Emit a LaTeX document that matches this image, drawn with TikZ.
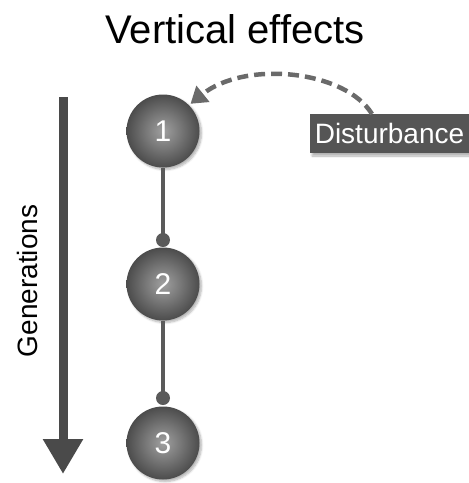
\documentclass[tikz,border=0pt]{standalone}
\usepackage{fontspec}
\setmainfont{Liberation Sans}
\usetikzlibrary{arrows.meta,shadows.blur}
\definecolor{ballin}{HTML}{A0A0A0}
\definecolor{ballout}{HTML}{4C4C4C}
\definecolor{linec}{HTML}{5A5A5A}
\definecolor{arrowc}{HTML}{4A4A4A}
\definecolor{dashc}{HTML}{6A6A6A}
\definecolor{boxc}{HTML}{555555}
\tikzset{
  ball/.style={circle, minimum size=73pt, inner sep=0pt, shading=radial,
    inner color=ballin, outer color=ballout, text=white,
    font=\fontsize{30}{32}\selectfont,
    blur shadow={shadow blur steps=6, shadow xshift=2pt, shadow yshift=-2pt, shadow opacity=30}},
  knob/.style={circle, fill=linec, minimum size=14pt, inner sep=0pt},
  link/.style={draw=linec, line width=4.5pt},
}
\begin{document}
\begin{tikzpicture}[x=1pt,y=-1pt]
\useasboundingbox (0,0) rectangle (469,483);
\node[font=\fontsize{40}{44}\selectfont] (title) at (235,29) {Vertical effects};
\node[ball] (n1) at (163,131) {1};
\node[ball] (n2) at (163,284) {2};
\node[ball] (n3) at (163,443) {3};
\node[knob] (d1) at (163,240) {};
\node[knob] (d2) at (163,398) {};
\draw[link] (n1.south) -- (d1.center);
\draw[link] (n2.south) -- (d2.center);
\node[fill=boxc, text=white, font=\fontsize{28}{30}\selectfont, inner sep=0pt,
  minimum width=159pt, minimum height=39pt,
  blur shadow={shadow blur steps=6, shadow xshift=2pt, shadow yshift=-3pt, shadow opacity=30}]
  (dist) at (389.5,133.5) {Disturbance};
\coordinate (ds) at (372,114);
\draw[dashc, line width=4.5pt, dash pattern=on 11pt off 6pt,
  -{Triangle[width=20pt,length=16pt]}, shorten >=2pt]
  (ds) .. controls (345,70) and (245,60) .. (n1.45);
\coordinate (gtop) at (63,97);
\coordinate (gbot) at (63,474);
\draw[arrowc, line width=9pt, -{Triangle[width=38pt,length=35pt]}] (gtop) -- (gbot);
\node[rotate=90, font=\fontsize{28}{30}\selectfont] (gen) at (27,281) {Generations};
\end{tikzpicture}
\end{document}
